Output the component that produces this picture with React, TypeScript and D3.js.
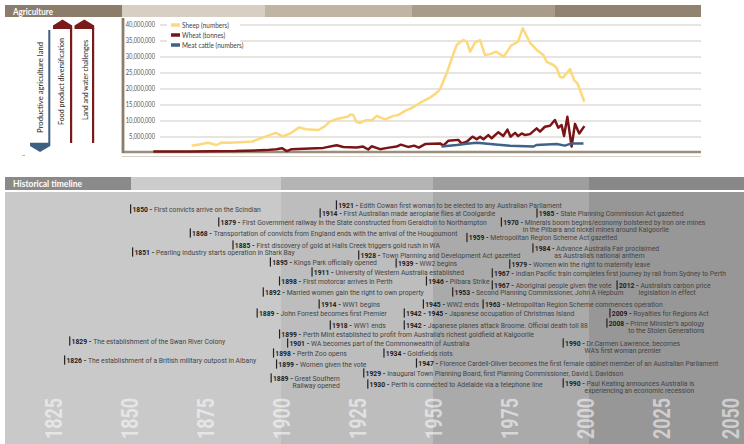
import React from "react";
import * as d3 from "d3";

// ---------- Agriculture data (values in millions) ----------
const SHEEP_YEARS = [1870.6, 1874, 1876, 1878.8, 1880.5, 1882, 1885, 1887.5, 1890.5, 1894.2, 1898.3, 1900.5, 1903, 1906, 1908.2, 1912.3, 1914.5, 1916, 1918.6, 1921, 1922, 1922.7, 1923.8, 1924.8, 1926.1, 1927.8, 1930, 1931.5, 1934.2, 1937, 1938.6, 1941.3, 1943.5, 1946.3, 1949, 1950.7, 1952.3, 1954.5, 1956.2, 1957.8, 1960, 1961.1, 1962.2, 1963.8, 1965.5, 1967.1, 1968.8, 1970.7, 1973.3, 1975.7, 1978, 1979.5, 1981.9, 1984.1, 1986.3, 1987.4, 1989.6, 1990.7, 1991.8, 1992.9, 1995.1, 1996.4, 1997.5, 1999.8];
const SHEEP_MILLIONS = [2.3, 2.8, 3.2, 2.5, 3.3, 3.2, 3.3, 3.4, 3.6, 4.9, 6.3, 5.2, 6.1, 8.0, 7.4, 7.2, 8.4, 9.8, 10.7, 11.2, 11.3, 12.0, 11.9, 9.7, 9.4, 10.2, 10.3, 11.6, 10.5, 11.6, 11.9, 13.4, 14.3, 16.0, 17.3, 18.4, 19.9, 24.9, 29.6, 33.8, 35.3, 34.8, 31.7, 34.5, 35.3, 30.6, 30.9, 31.7, 30.1, 33.6, 34.8, 39.0, 34.5, 32.2, 30.6, 28.5, 27.5, 26.5, 23.7, 23.7, 26.2, 22.8, 21.8, 16.0];

const WHEAT_YEARS = [1858, 1870, 1885, 1895, 1898.5, 1900.3, 1901.9, 1903.5, 1909.5, 1913.9, 1918.3, 1920.5, 1924.9, 1927, 1928.7, 1929.8, 1932.6, 1935, 1938, 1939.4, 1941.8, 1943.8, 1945.3, 1947.4, 1952.3, 1953.4, 1955, 1958.3, 1959.4, 1961.1, 1963, 1964.4, 1965.5, 1966.6, 1968.2, 1969.3, 1971.5, 1973.1, 1974.5, 1975.5, 1977, 1978, 1979.2, 1980.3, 1981.9, 1984.1, 1985.2, 1986.8, 1988.5, 1990.1, 1991.2, 1992.3, 1993.1, 1994.2, 1995.6, 1996.7, 1998.1, 1999.8];
const WHEAT_MILLIONS = [0.5, 0.5, 0.6, 0.9, 1.2, 1.5, 0.6, 1.2, 1.4, 1.6, 2.4, 1.9, 1.7, 2.0, 1.1, 2.1, 1.2, 1.6, 2.0, 2.6, 1.9, 2.3, 1.7, 2.8, 3.0, 2.3, 3.8, 4.1, 3.0, 3.5, 5.1, 4.3, 5.1, 4.3, 5.6, 4.6, 6.5, 5.3, 7.3, 5.1, 6.3, 5.3, 6.1, 5.6, 5.9, 7.7, 6.7, 8.2, 8.5, 10.3, 7.9, 8.75, 5.3, 11.3, 2.0, 9.1, 6.1, 8.4];

const CATTLE_YEARS = [1952.8, 1957.8, 1961, 1964.4, 1968.8, 1975.3, 1983, 1984, 1990.7, 1993.4, 1995.6, 1999.5];
const CATTLE_MILLIONS = [2.0, 2.5, 2.9, 3.2, 2.8, 2.3, 2.0, 2.5, 2.8, 2.3, 3.0, 3.0];

const SERIES_NAMES = ["Sheep (numbers)", "Wheat (tonnes)", "Meat cattle (numbers)"];
const SERIES_COLORS = ["#fcd97c", "#7a1416", "#3f6289"];
const Y_TICKS = [5e6, 10e6, 15e6, 20e6, 25e6, 30e6, 35e6, 40e6];
const ARROW_LABELS = ["Productive agriculture land", "Food product diversification", "Land and water challenges"];

// ---------- Timeline data ----------
const AXIS_YEARS = [1825, 1850, 1875, 1900, 1925, 1950, 1975, 2000, 2025, 2050];
const EVENT_YEARS = [1850, 1879, 1868, 1885, 1851, 1921, 1914, 1959, 1928, 1895, 1939, 1911, 1898, 1946, 1892, 1953, 1914, 1945, 1963, 1889, 1942, 2009, 1918, 1942, 2008, 1899, 1901, 1990, 1898, 1934, 1829, 1826, 1899, 1947, 1929, 1889, 1930, 1990, 1985, 1970, 1984, 1979, 1967, 1967, 2012];
const EVENT_LABELS = ["1850", "1879", "1868", "1885", "1851", "1921", "1914", "1959", "1928", "1895", "1939", "1911", "1898", "1946", "1892", "1953", "1914", "1945", "1963", "1889", "1942 - 1945", "2009", "1918", "1942", "2008", "1899", "1901", "1990", "1898", "1934", "1829", "1826", "1899", "1947", "1929", "1889", "1930", "1990", "1985", "1970", "1984", "1979", "1967", "1967", "2012"];
const EVENT_TEXTS = [
  ["First convicts arrive on the Scindian"],
  ["First Government railway in the State constructed from Geraldton to Northampton"],
  ["Transportation of convicts from England ends  with the arrival of the Hougoumont"],
  ["First discovery of gold at Halls Creek triggers gold rush in WA"],
  ["Pearling industry starts operation in Shark Bay"],
  ["Edith Cowan first woman to be elected to any Australian Parliament"],
  ["First Australian made aeroplane flies at Coolgardie"],
  ["Metropolitan Region Scheme Act gazetted"],
  ["Town Planning and Development Act gazetted"],
  ["Kings Park officially opened"],
  ["WW2 begins"],
  ["University of Western Australia established"],
  ["First motorcar arrives in Perth"],
  ["Pilbara Strike"],
  ["Married women gain the right to own property"],
  ["Second Planning Commissioner, John A Hepburn"],
  ["WW1 begins"],
  ["WW2 ends"],
  ["Metropolitan Region Scheme commences operation"],
  ["John Forrest becomes first Premier"],
  ["Japanese occupation of Christmas Island"],
  ["Royalties for Regions Act"],
  ["WW1 ends"],
  ["Japanese planes attack Broome. Official death toll 88"],
  ["Prime Minister\u2019s apology", "to the Stolen Generations"],
  ["Perth Mint established to profit from Australia\u2019s richest goldfield at Kalgoorlie"],
  ["WA becomes part of the Commonwealth of Australia"],
  ["Dr.Carmen Lawrence, becomes", "WA\u2019s first woman premier"],
  ["Perth Zoo opens"],
  ["Goldfields riots"],
  ["The establishment of the Swan River Colony"],
  ["The establishment of a British military outpost in Albany"],
  ["Women given the vote"],
  ["Florence Cardell-Oliver becomes the first female cabinet member of an Australian Parliament"],
  ["Inaugural Town Planning Board, first Planning Commissioner, David L Davidson"],
  ["Great Southern", "Railway opened"],
  ["Perth is connected to Adelaide via a telephone line"],
  ["Paul Keating announces Australia is", "experiencing an economic recession"],
  ["State Planning Commission Act gazetted"],
  ["Minerals boom begins/economy bolstered by iron ore mines", "in the Pilbara and nickel mines around Kalgoorlie"],
  ["Advance Australia Fair proclaimed", "as Australia\u2019s national anthem"],
  ["Women win the right to maternity leave"],
  ["Indian Pacific train completes first journey by rail from Sydney to Perth"],
  ["Aboriginal people given the vote"],
  ["Australia\u2019s carbon price", "legislation in effect"],
];

// layout of the annotations: [horizontal nudge px, text centre y]
const EVENT_LAYOUT: [number, number][] = [
  [1, 209], [1, 222], [6, 233], [-3, 245], [0, 252], [-9, 205], [-4, 213], [6, 237.5], [-8, 255], [4, 262],
  [-4, 263], [-3, 272], [4, 281], [5, 281], [6, 292], [10, 292], [-5, 304], [5, 304], [10, 304], [9, 313],
  [-5, 313], [-3, 313], [-6, 325], [-5, 325], [-3, 323], [1, 334], [3, 343], [8, 343], [-2, 353], [-1, 353],
  [4, 341], [8, 360], [-2, 364], [-8, 363], [-6, 373], [23, 378], [-5, 384], [8, 383], [-3, 213], [7, 222],
  [-4, 248], [-12, 264], [7, 273], [7, 285], [-5, 285],
];

// ---------- scales ----------
const xYear = d3.scaleLinear().domain([1825, 2050]).range([53, 737]);
const yVal = d3.scaleLinear().domain([0, 40e6]).range([153, 25]);
const fmt = d3.format(",");

const lineGen = d3
  .line<[number, number]>()
  .x((d) => xYear(d[0]))
  .y((d) => yVal(d[1] * 1e6));

const zip = (a: number[], b: number[]) => a.map((v, i) => [v, b[i]] as [number, number]);
const SERIES = [zip(SHEEP_YEARS, SHEEP_MILLIONS), zip(WHEAT_YEARS, WHEAT_MILLIONS), zip(CATTLE_YEARS, CATTLE_MILLIONS)];

const SX = 0.97; // horizontal text compression for timeline text
const CAL = "Lato, 'Open Sans', sans-serif";
const DIN = "Roboto, 'DejaVu Sans', sans-serif";

export default function App() {
  const gridX0 = 160;
  const gridX1 = 701;
  const axisX = 123;
  const agriBands = [
    [122, 265, "#d7cfc3"],
    [265, 412, "#c0b5a5"],
    [412, 555, "#a99c89"],
    [555, 701, "#918370"],
  ] as [number, number, string][];

  const tlEdges = [5, xYear(1900), xYear(1950), xYear(2000) + 4, 744];
  const tlBody = ["#c9c9c9", "#bdbdbd", "#aaaaaa", "#979797"];
  const tlHead = ["#cccccc", "#b4b4b4", "#9e9e9e", "#888888"];

  return (
    <div style={{ position: "fixed", left: 0, top: 0 }}>
      <svg width={744} height={444} style={{ display: "block", background: "#fff" }}>
        {/* ===== Agriculture header ===== */}
        <rect x={5} y={5} width={117} height={12} fill="#8b7d69" />
        {agriBands.map(([a, b, c], i) => (
          <rect key={i} x={a} y={5} width={b - a} height={12} fill={c} />
        ))}
        <text x={13} y={14.5} fontFamily={CAL} fontWeight={700} fontSize={9} fill="#fff" textLength={40} lengthAdjust="spacingAndGlyphs">
          Agriculture
        </text>

        {/* ===== arrows ===== */}
        <rect x={48.3} y={30} width={2} height={113} fill="#3d5f80" />
        <polygon points="30,142.7 50.3,142.7 50.3,146 40,152 30,146" fill="#3d5f80" />
        <rect x={70} y={28} width={2.2} height={115} fill="#7b1a1a" />
        <polygon points="53,29 53,25.5 62.5,19.5 72.2,25.5 72.2,29" fill="#7b1a1a" />
        <rect x={92} y={28} width={2.2} height={115} fill="#7b1a1a" />
        <polygon points="74.5,29 74.5,25.5 84.3,19.5 94.2,25.5 94.2,29" fill="#7b1a1a" />
        {[
          [40.5, 87.4, 91],
          [61.5, 81.5, 87],
          [85.5, 80, 80],
        ].map(([cx, cy, len], i) => (
          <text
            key={i}
            transform={`translate(${cx + 2.6},${cy}) rotate(-90)`}
            textAnchor="middle"
            fontFamily={CAL}
            fontSize={8}
            fill="#222"
            textLength={len}
            lengthAdjust="spacingAndGlyphs"
          >
            {ARROW_LABELS[i]}
          </text>
        ))}
        <line x1={22.5} x2={25} y1={155.5} y2={155.5} stroke="#aaa" strokeWidth={1} />

        {/* ===== chart ===== */}
        {Y_TICKS.map((t) => (
          <g key={t}>
            <line x1={gridX0} x2={gridX1} y1={yVal(t)} y2={yVal(t)} stroke="#e1ddd6" strokeWidth={1.3} />
            <text
              transform={`translate(155,${yVal(t) + 2.4}) scale(0.82,1)`}
              textAnchor="end"
              fontFamily={CAL}
              fontSize={7}
              fill="#555"
            >
              {fmt(t)}
            </text>
          </g>
        ))}
        <line x1={axisX - 1} x2={gridX1} y1={156.5} y2={156.5} stroke="#d6d0c6" strokeWidth={1} />
        <line x1={axisX - 1} x2={gridX1} y1={152} y2={152} stroke="#9a8e7c" strokeWidth={2.4} />
        <line x1={axisX} x2={axisX} y1={18} y2={153} stroke="#8b7d69" strokeWidth={2.8} />

        {SERIES.map((s, i) => (
          <path key={i} d={lineGen(s) || ""} fill="none" stroke={SERIES_COLORS[i]} strokeWidth={2.5} strokeLinejoin="round" />
        ))}

        {/* legend */}
        <rect x={167} y={19} width={73} height={32} fill="#fff" />
        {SERIES_NAMES.map((n, i) => (
          <g key={n} transform={`translate(171,${25 + i * 10})`}>
            <line x1={0} x2={9} y1={0} y2={0} stroke={SERIES_COLORS[i]} strokeWidth={3.5} />
            <text transform={`translate(11,2.5) scale(0.92,1)`} fontFamily={CAL} fontSize={7} fill="#444">
              {n}
            </text>
          </g>
        ))}

        {/* ===== Timeline header ===== */}
        <rect x={5} y={177} width={126} height={13} fill="#8a8a8a" />
        {tlHead.map((c, i) => (
          <rect key={i} x={i === 0 ? 131 : tlEdges[i]} y={177} width={tlEdges[i + 1] - (i === 0 ? 131 : tlEdges[i])} height={13} fill={c} />
        ))}
        <text x={13} y={187} fontFamily={CAL} fontWeight={700} fontSize={9} fill="#fff" textLength={69} lengthAdjust="spacingAndGlyphs">
          Historical timeline
        </text>

        {/* body bands */}
        {tlBody.map((c, i) => (
          <rect key={i} x={tlEdges[i]} y={192} width={tlEdges[i + 1] - tlEdges[i]} height={252} fill={c} />
        ))}

        {/* year labels */}
        {AXIS_YEARS.map((y) => (
          <text
            key={y}
            transform={`translate(${Math.min(xYear(y), 730) + 8.5},439) rotate(-90)`}
            fontFamily={DIN}
            fontWeight={700}
            fontSize={24}
            fill="#ffffff"
            fillOpacity={0.55}
            textLength={41}
            lengthAdjust="spacingAndGlyphs"
          >
            {y}
          </text>
        ))}

        {/* events */}
        {EVENT_YEARS.map((yr, i) => {
          const [dx, cy] = EVENT_LAYOUT[i];
          const x = xYear(yr) + dx;
          const lines = EVENT_TEXTS[i];
          return (
            <g key={i}>
              <rect x={x} y={cy - 4.6} width={1.2} height={9.2} fill="#222" />
              <text transform={`translate(${x + 2.4},${cy + 2.5}) scale(${SX},1)`} fontFamily={DIN} fontSize={7}>
                <tspan fontWeight={700} fill="#1c1c1c">
                  {EVENT_LABELS[i]}
                </tspan>
                <tspan fill="#2a2a2a" fontWeight={700}>{" - "}</tspan>
                <tspan fill="#444">{lines[0]}</tspan>
              </text>
              {lines.slice(1).map((l, j) => (
                <text
                  key={j}
                  transform={`translate(${x + 22},${cy + 2.5 + 7.3 * (j + 1)}) scale(${SX},1)`}
                  fontFamily={DIN}
                  fontSize={7}
                  fill="#444"
                >
                  {l}
                </text>
              ))}
            </g>
          );
        })}
      </svg>
    </div>
  );
}
